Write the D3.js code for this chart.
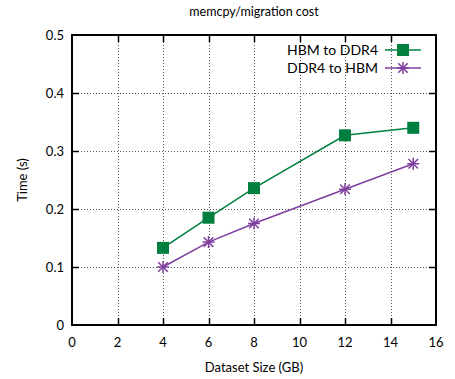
<!DOCTYPE html>
<html>
<head>
<meta charset="utf-8">
<script src="https://cdn.jsdelivr.net/npm/d3@7"></script>
<style>
  body { margin: 0; background: #fff; }
  svg text { font-family: "Lato", "Open Sans", sans-serif; font-size: 13px; fill: #000; }
</style>
</head>
<body>
<div id="chart"></div>
<script>
// Dataset sizes (GB)
const sizes = [4, 6, 8, 12, 15];
// Times (s)
const hbmToDdr4 = [0.133, 0.185, 0.236, 0.327, 0.340];
const ddr4ToHbm = [0.100, 0.143, 0.175, 0.234, 0.278];

const xTicks = [0, 2, 4, 6, 8, 10, 12, 14, 16];
const yTicks = [0, 0.1, 0.2, 0.3, 0.4, 0.5];

const width = 455, height = 379;
const margin = { top: 35, right: 19, bottom: 54, left: 72 };

const svg = d3.select('#chart').append('svg')
    .attr('width', width)
    .attr('height', height);

const x = d3.scaleLinear().domain([0, 16]).range([margin.left, width - margin.right]);
const y = d3.scaleLinear().domain([0, 0.5]).range([height - margin.bottom, margin.top]);

// Grid
const grid = svg.append('g')
    .attr('stroke', '#555')
    .attr('stroke-width', 1)
    .attr('stroke-dasharray', '1,2');
grid.selectAll('.gx')
    .data(xTicks.slice(1, -1))
    .enter().append('line')
    .attr('x1', d => Math.round(x(d)) + 0.5)
    .attr('x2', d => Math.round(x(d)) + 0.5)
    .attr('y1', y(0)).attr('y2', y(0.5));
grid.selectAll('.gy')
    .data(yTicks.slice(1, -1))
    .enter().append('line')
    .attr('y1', d => Math.round(y(d)) + 0.5)
    .attr('y2', d => Math.round(y(d)) + 0.5)
    .attr('x1', x(0)).attr('x2', x(16));

// Tick marks on all four sides (inward)
const ticks = svg.append('g').attr('stroke', '#000').attr('stroke-width', 1.5);
xTicks.slice(1, -1).forEach(t => {
    const px = Math.round(x(t)) + 0.5;
    ticks.append('line').attr('x1', px).attr('x2', px).attr('y1', y(0)).attr('y2', y(0) - 7);
    ticks.append('line').attr('x1', px).attr('x2', px).attr('y1', y(0.5)).attr('y2', y(0.5) + 7);
});
yTicks.slice(1, -1).forEach(t => {
    const py = Math.round(y(t)) + 0.5;
    ticks.append('line').attr('y1', py).attr('y2', py).attr('x1', x(0)).attr('x2', x(0) + 7);
    ticks.append('line').attr('y1', py).attr('y2', py).attr('x1', x(16)).attr('x2', x(16) - 7);
});

// Border
svg.append('rect')
    .attr('x', x(0)).attr('y', y(0.5))
    .attr('width', x(16) - x(0)).attr('height', y(0) - y(0.5))
    .attr('fill', 'none').attr('stroke', '#000').attr('stroke-width', 2);

// Tick labels
svg.selectAll('.xl')
    .data(xTicks)
    .enter().append('text')
    .attr('x', d => x(d))
    .attr('y', y(0) + 22)
    .attr('text-anchor', 'middle')
    .text(d => d);
svg.selectAll('.yl')
    .data(yTicks)
    .enter().append('text')
    .attr('x', x(0) - 8)
    .attr('y', d => y(d) + 5)
    .attr('text-anchor', 'end')
    .text(d => d === 0 ? '0' : d.toFixed(1));

// Titles
svg.append('text')
    .attr('x', (x(0) + x(16)) / 2).attr('y', 16)
    .attr('text-anchor', 'middle').style('font-size', '12.5px')
    .text('memcpy/migration cost');
svg.append('text')
    .attr('x', (x(0) + x(16)) / 2).attr('y', 372)
    .attr('text-anchor', 'middle')
    .text('Dataset Size (GB)');
svg.append('text')
    .attr('transform', `translate(27, ${(y(0) + y(0.5)) / 2}) rotate(-90)`)
    .attr('text-anchor', 'middle')
    .text('Time (s)');

const green = '#007f3f';
const purple = '#7f3f9f';

const line = d3.line().x(d => x(d[0])).y(d => y(d[1]));

function drawSquare(g, cx, cy) {
    g.append('rect')
        .attr('x', cx - 6).attr('y', cy - 6)
        .attr('width', 12).attr('height', 12)
        .attr('fill', green);
}
function drawStar(g, cx, cy) {
    const r = 6;
    const p = g.append('g').attr('stroke', purple).attr('stroke-width', 1.5);
    p.append('line').attr('x1', cx - r).attr('x2', cx + r).attr('y1', cy).attr('y2', cy);
    p.append('line').attr('x1', cx).attr('x2', cx).attr('y1', cy - r).attr('y2', cy + r);
    p.append('line').attr('x1', cx - r * 0.8).attr('x2', cx + r * 0.8).attr('y1', cy - r * 0.8).attr('y2', cy + r * 0.8);
    p.append('line').attr('x1', cx - r * 0.8).attr('x2', cx + r * 0.8).attr('y1', cy + r * 0.8).attr('y2', cy - r * 0.8);
}

const series = [
    { name: 'HBM to DDR4', values: hbmToDdr4, color: green, marker: drawSquare },
    { name: 'DDR4 to HBM', values: ddr4ToHbm, color: purple, marker: drawStar }
];

const plot = svg.append('g');
series.forEach(s => {
    const pts = sizes.map((d, i) => [d, s.values[i]]);
    plot.append('path')
        .attr('d', line(pts))
        .attr('fill', 'none')
        .attr('stroke', s.color)
        .attr('stroke-width', 1.5);
    pts.forEach(p => s.marker(plot, x(p[0]), y(p[1])));
});

// Legend
const legend = svg.append('g');
series.forEach((s, i) => {
    const ly = 50 + i * 18;
    legend.append('text')
        .attr('x', 378).attr('y', ly + 5)
        .attr('text-anchor', 'end')
        .style('font-size', '14px')
        .text(s.name);
    legend.append('line')
        .attr('x1', 385).attr('x2', 421)
        .attr('y1', ly).attr('y2', ly)
        .attr('stroke', s.color).attr('stroke-width', 1.5);
    s.marker(legend, 403, ly);
});
</script>
</body>
</html>
